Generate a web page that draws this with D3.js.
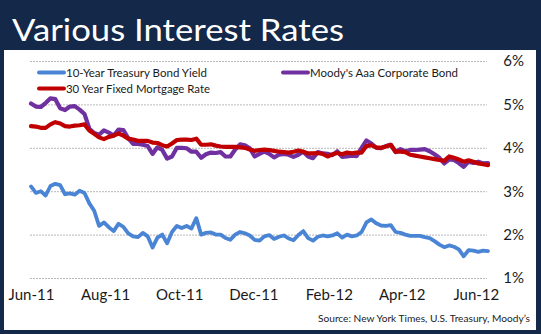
<!DOCTYPE html>
<html><head><meta charset="utf-8">
<script src="https://cdn.jsdelivr.net/npm/d3@7"></script>
<style>html,body{margin:0;padding:0;background:#142849;}svg{display:block;}</style>
</head><body>
<svg id="chart" width="541" height="334"></svg>
<script>
// ---- data ----
const startDate = "2011-06-01";
const stepDays = 4;
const treasury = [3.11,2.96,3.00,2.90,3.12,3.17,3.14,2.93,2.95,2.92,3.01,2.96,2.72,2.55,2.20,2.28,2.17,2.08,2.25,2.18,
  2.03,1.96,1.94,2.04,1.96,1.70,1.93,2.00,1.80,2.06,2.20,2.15,2.20,2.14,2.38,2.00,2.04,2.05,2.00,2.00,
  1.92,1.88,2.00,2.06,2.03,1.98,1.88,1.86,1.96,1.99,1.90,1.95,1.98,1.91,1.87,1.99,2.08,1.92,1.86,1.95,
  1.98,1.96,1.98,2.03,1.93,2.00,1.96,1.98,2.06,2.28,2.35,2.26,2.21,2.20,2.22,2.06,2.04,2.00,1.97,1.97,
  1.97,1.94,1.92,1.85,1.77,1.71,1.75,1.72,1.66,1.50,1.64,1.63,1.60,1.63,1.62];
const moodys = [5.02,4.95,4.94,5.03,5.14,5.12,4.91,4.87,4.95,4.96,4.88,4.78,4.44,4.34,4.30,4.40,4.35,4.28,4.42,4.41,
  4.22,4.09,4.09,4.07,4.04,3.86,4.01,3.95,3.75,3.80,4.00,4.00,3.99,3.91,3.91,3.77,3.85,3.89,3.88,3.90,
  3.80,3.80,3.96,4.08,4.06,3.99,3.80,3.86,3.91,3.86,3.78,3.84,3.86,3.84,3.79,3.84,3.91,3.80,3.76,3.90,
  3.87,3.86,3.83,3.92,3.79,3.80,3.82,3.81,4.00,4.17,4.10,4.00,3.99,4.04,4.07,3.90,3.97,3.92,3.95,3.95,
  3.96,3.97,3.92,3.85,3.77,3.64,3.73,3.72,3.65,3.56,3.68,3.65,3.68,3.64,3.65];
const mortgage = [4.50,4.49,4.46,4.46,4.54,4.59,4.56,4.50,4.49,4.51,4.52,4.54,4.40,4.32,4.24,4.20,4.25,4.28,4.33,4.28,
  4.21,4.19,4.16,4.16,4.16,4.12,4.11,4.06,4.03,4.10,4.18,4.19,4.19,4.18,4.21,4.07,4.07,4.08,4.05,4.03,
  4.02,4.02,4.02,4.01,4.00,3.96,3.93,3.95,3.96,3.95,3.93,3.91,3.90,3.89,3.91,3.94,3.91,3.87,3.87,3.88,
  3.86,3.80,3.85,3.88,3.85,3.89,3.87,3.89,3.89,4.04,4.06,4.01,4.00,4.03,4.07,3.91,3.91,3.90,3.84,3.82,
  3.80,3.78,3.76,3.74,3.72,3.70,3.80,3.77,3.73,3.68,3.71,3.68,3.64,3.62,3.60];
const seriesNames = ["10-Year Treasury Bond Yield", "Moody's Aaa Corporate Bond", "30 Year Fixed Mortgage Rate"];
const seriesColors = ["#4a84d4", "#7030a0", "#c00000"];
const xTickDates = ["2011-06-01","2011-08-01","2011-10-01","2011-12-01","2012-02-01","2012-04-01","2012-06-01"];
const xTickLabels = ["Jun-11","Aug-11","Oct-11","Dec-11","Feb-12","Apr-12","Jun-12"];
const yTickValues = [1,2,3,4,5,6];
const titleText = "Various Interest Rates";
const sourceText = "Source:  New York Times, U.S. Treasury, Moody\u2019s";

// ---- drawing ----
const FONT = "Lato, 'Open Sans', sans-serif";
const parse = d3.utcParse("%Y-%m-%d");
const start = parse(startDate);
const dateAt = i => d3.utcDay.offset(start, i * stepDays);

const svg = d3.select("#chart");
svg.append("rect").attr("width", 541).attr("height", 334).attr("fill", "#142849");
svg.append("rect").attr("x", 4).attr("y", 50).attr("width", 532).attr("height", 280).attr("fill", "#ffffff");

svg.append("text").attr("x", 12).attr("y", 41).text(titleText)
  .attr("font-family", FONT).attr("font-size", 31).attr("fill", "#ffffff")
  .attr("textLength", 332).attr("lengthAdjust", "spacingAndGlyphs");

const x = d3.scaleUtc().domain([start, dateAt(treasury.length - 1)]).range([31, 488]);
const y = d3.scaleLinear().domain([1, 6]).range([278, 61]);

// gridlines
svg.append("g").selectAll("line").data(yTickValues).join("line")
  .attr("x1", 30).attr("x2", 487)
  .attr("y1", d => y(d) + 0.5).attr("y2", d => y(d) + 0.5)
  .attr("stroke", "#b8b8b8").attr("stroke-width", 1).attr("stroke-dasharray", "2,1");

// y labels (right)
svg.append("g").selectAll("text").data(yTickValues).join("text")
  .attr("x", 524).attr("y", d => y(d)).attr("dy", "0.36em")
  .attr("text-anchor", "end").attr("font-family", FONT).attr("font-size", 15).attr("fill", "#1a1a1a")
  .text(d => d + "%");

// x axis labels
const xAxis = d3.axisBottom(x)
  .tickValues(xTickDates.map(parse))
  .tickFormat((d, i) => xTickLabels[i])
  .tickSize(0).tickPadding(11);
const gx = svg.append("g").attr("transform", `translate(0,${y(1)})`).call(xAxis);
gx.select(".domain").remove();
gx.selectAll("text").attr("font-family", FONT).attr("font-size", 15).attr("fill", "#1a1a1a");

// lines
const line = d3.line().x((d, i) => x(dateAt(i))).y(d => y(d)).curve(d3.curveLinear);
[treasury, moodys, mortgage].forEach((s, k) => {
  svg.append("path").datum(s).attr("d", line)
    .attr("fill", "none").attr("stroke", seriesColors[k])
    .attr("stroke-width", k === 0 ? 3.8 : 4.2)
    .attr("stroke-linejoin", "round").attr("stroke-linecap", "round");
});

// legend
const legendPos = [[39, 72.5, 141], [283, 72.5, 148], [39, 88.5, 144]];
legendPos.forEach((p, k) => {
  const g = svg.append("g");
  g.append("line").attr("x1", p[0]).attr("x2", p[0] + 25).attr("y1", p[1]).attr("y2", p[1])
    .attr("stroke", seriesColors[k]).attr("stroke-width", 4).attr("stroke-linecap", "round");
  g.append("text").attr("x", p[0] + 27).attr("y", p[1]).attr("dy", "0.36em")
    .attr("font-family", FONT).attr("font-size", 12).attr("fill", "#1a1a1a")
    .attr("textLength", p[2]).attr("lengthAdjust", "spacingAndGlyphs")
    .text(seriesNames[k]);
});

// source
svg.append("text").attr("x", 530).attr("y", 322).attr("text-anchor", "end")
  .attr("font-family", FONT).attr("font-size", 10).attr("fill", "#1a1a1a")
  .attr("textLength", 212).attr("lengthAdjust", "spacingAndGlyphs")
  .text(sourceText);
</script>
</body></html>
